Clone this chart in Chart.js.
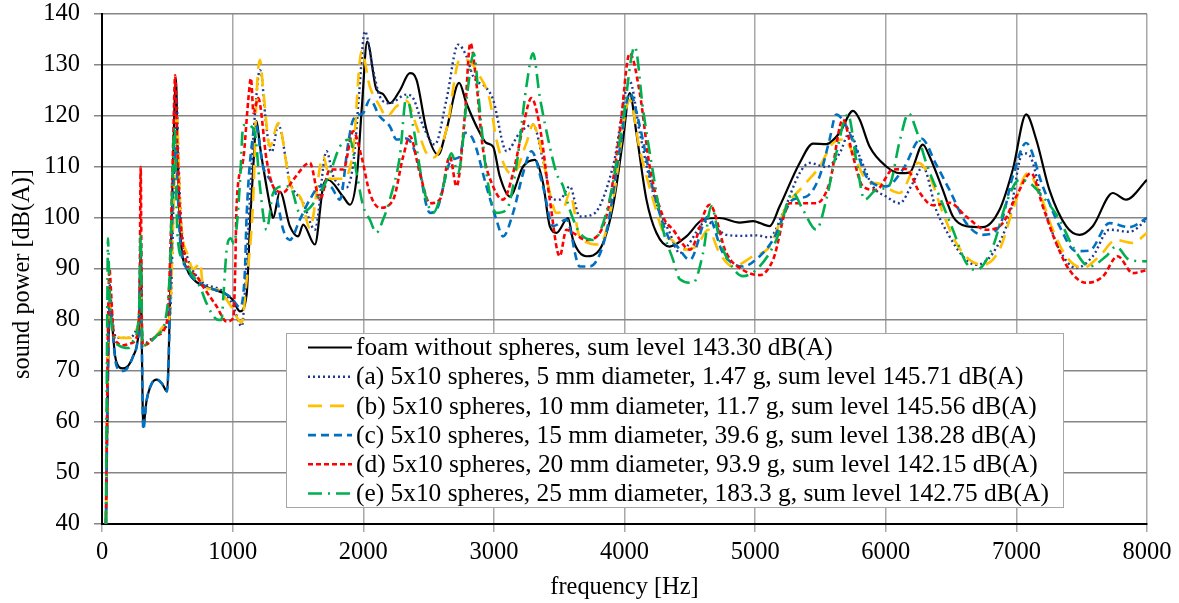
<!DOCTYPE html>
<html><head><meta charset="utf-8">
<script src="https://cdn.jsdelivr.net/npm/chart.js@4.4.1/dist/chart.umd.min.js"></script>
<style>html,body{margin:0;padding:0;background:#fff}#wrap{width:1179px;height:603px}</style>
</head><body><div id="wrap"><canvas id="c" width="1179" height="603"></canvas></div>
<script>
// ---- data: [frequency Hz, sound power dB(A)] ----
const foam = [[30,40],[50,76],[61,84],[70,82],[85,77],[100,73],[130,70.8],[160,70.5],[200,71],[240,73],[270,75.5],[285,80],[296,94],[305,75],[316,59],[340,64],[380,67.5],[420,68.3],[460,67.5],[498,66],[510,72],[525,90],[545,112],[566,127.4],[580,112],[600,97],[650,90],[700,88],[750,87],[850,86],[930,85.3],[1000,84],[1056,81.7],[1107,85],[1135,100],[1158,110],[1183,119],[1210,114],[1234,110],[1298,101],[1310,100],[1362,105.2],[1438,98.4],[1502,96.4],[1540,98.7],[1630,94.8],[1693,106.2],[1730,107.5],[1845,104.2],[1898,102.6],[1950,108],[1990,122],[2030,134.6],[2101,125.2],[2152,124.3],[2203,122.5],[2280,125],[2357,128.4],[2408,127.1],[2484,117.3],[2573,112.4],[2637,117.3],[2734,126.5],[2790,122.5],[2892,116.7],[2943,114.7],[2994,114],[3045,108.2],[3122,104.2],[3224,110.1],[3313,111.4],[3376,106.9],[3428,98.4],[3479,97.1],[3568,100],[3606,95.7],[3708,92.5],[3810,93.8],[3912,102.3],[3989,115.4],[4040,124.5],[4091,116.7],[4168,103.6],[4244,97.1],[4346,94.4],[4474,96.4],[4601,99.7],[4728,100],[4881,99.1],[4984,99.4],[5111,98.4],[5188,102.3],[5341,110.8],[5443,114.6],[5545,114.5],[5647,116.7],[5749,121],[5800,119.3],[5876,114],[6004,110.1],[6106,108.8],[6182,108.9],[6284,114.4],[6335,112.1],[6437,105.5],[6514,100.3],[6616,98.4],[6743,98.2],[6871,101.6],[6973,109.5],[7075,120.3],[7152,115.4],[7253,105.5],[7381,98.4],[7483,96.7],[7585,98.4],[7738,104.9],[7840,103.6],[8000,107.5]];
const seriesA = [[30,40],[48,80],[58,87],[68,84],[90,78],[120,76.5],[200,76.5],[260,78],[285,82],[296,92],[305,78],[316,75],[360,76],[418,76.8],[480,78.5],[520,80.7],[540,95],[555,112],[570,124],[585,112],[608,98.4],[660,91.8],[700,89.5],[775,87.3],[930,85.5],[1000,83],[1056,79.1],[1070,78.8],[1100,88],[1132,103.6],[1170,120],[1209,129],[1222,128],[1250,120],[1285,113.4],[1300,113],[1349,118.3],[1438,107.2],[1540,103],[1630,97.7],[1719,113.1],[1770,108.2],[1872,106],[1930,112],[1970,125],[2012,136.6],[2076,129],[2127,123.8],[2203,122.5],[2331,124.2],[2382,123.5],[2459,118],[2548,114.4],[2637,123.2],[2726,134],[2790,131.7],[2841,127.8],[2943,125.5],[2994,123.2],[3097,113.1],[3198,116.7],[3300,118.3],[3376,111.4],[3453,103.6],[3504,103.6],[3581,106.2],[3657,100.3],[3759,100.7],[3912,110.1],[4040,126.8],[4117,116.7],[4219,104.9],[4346,97.1],[4423,93.1],[4480,94.5],[4627,99.3],[4780,96.7],[4907,96.5],[5009,96.6],[5111,96.2],[5213,101],[5341,108.8],[5417,110.8],[5545,110],[5647,112.7],[5723,116.7],[5800,112.1],[5901,106.2],[6004,104.2],[6106,102.9],[6208,106.9],[6284,110],[6386,101.6],[6488,96.4],[6590,92.5],[6692,90.8],[6820,93.1],[6947,100.3],[7049,112.7],[7100,112.3],[7202,102.9],[7330,93.8],[7457,90.2],[7585,92.5],[7712,97.7],[7865,97.3],[8000,99.7]];
const seriesB = [[30,40],[48,78],[58,84],[68,82],[90,77.5],[120,76.7],[150,76.5],[220,76.5],[260,78],[285,81],[296,90],[305,77],[316,75],[360,75.5],[418,77],[480,79],[520,81],[540,95],[555,108],[572,120],[590,108],[600,101],[660,92.5],[700,90],[724,90.5],[750,91.2],[775,86.5],[880,86],[980,83],[1070,79.5],[1100,86],[1158,104],[1185,125],[1209,131],[1235,125],[1285,114],[1349,118.6],[1438,106.9],[1528,103.6],[1591,98],[1693,112.1],[1745,107.7],[1847,107.7],[1923,113.4],[1987,132.7],[2050,125.8],[2127,121.9],[2178,119.9],[2255,121.9],[2331,123],[2408,118],[2484,112.7],[2535,111.8],[2637,117.3],[2739,131],[2790,131],[2892,127.8],[2968,123.2],[3019,115.4],[3097,109.5],[3147,108.7],[3249,114.7],[3300,118.3],[3351,114.7],[3428,104.9],[3479,101],[3530,101.5],[3581,104.9],[3657,96.4],[3810,94.8],[3912,103.6],[4040,123.2],[4117,113.4],[4219,103.6],[4300,97],[4372,95.5],[4423,93.8],[4550,94.4],[4640,97.7],[4728,93.1],[4830,90.5],[4984,92.5],[5111,94.4],[5239,102.3],[5366,106.2],[5494,110.1],[5596,114.7],[5685,115.4],[5749,112.7],[5850,107.5],[5952,106.7],[6106,104.9],[6250,110.8],[6335,108.2],[6437,101],[6539,95.1],[6641,91.8],[6743,90.8],[6871,93.8],[6973,101.6],[7088,108.8],[7177,104.9],[7279,97.7],[7381,92.5],[7508,90.2],[7636,92.5],[7763,95.7],[7891,95.1],[8000,97.1]];
const seriesC = [[30,40],[50,76],[61,84],[70,82],[85,77],[100,72.5],[130,70.2],[160,70],[200,70.8],[240,73],[270,75.5],[285,80],[296,94],[305,75],[316,58.5],[340,64],[380,67.5],[420,68.3],[460,67.5],[498,66],[510,72],[525,88],[545,105],[566,114],[580,105],[600,95],[650,90],[750,87.3],[985,84.5],[1056,82.5],[1094,89.6],[1107,100.3],[1158,116.7],[1175,118.3],[1234,110],[1298,107],[1336,104.2],[1387,97.7],[1438,95.7],[1515,99.7],[1591,103.6],[1668,106.2],[1745,106.2],[1821,103.6],[1885,114.7],[1923,119.3],[2000,120.6],[2050,123.2],[2127,119.9],[2203,118],[2255,115.4],[2331,115.6],[2408,112.1],[2510,101],[2561,101.6],[2675,111.4],[2739,112],[2777,116.7],[2841,115.4],[2943,106.2],[3019,99.7],[3070,96.4],[3147,101],[3224,108.8],[3287,113.1],[3376,106.2],[3453,98.4],[3555,99.7],[3657,90.5],[3733,90.5],[3861,97.1],[3963,113.4],[4040,124.5],[4117,118],[4219,105.5],[4346,95.7],[4400,94.5],[4500,91.8],[4640,100.3],[4754,93.1],[4907,90.5],[5035,92.5],[5137,95.7],[5290,103.6],[5392,104.2],[5494,108.2],[5570,115.4],[5621,120.3],[5698,118],[5774,113.4],[5850,108.2],[6004,106.2],[6131,109.5],[6272,115.6],[6386,110.5],[6488,105.5],[6616,99],[6743,96.7],[6871,98.4],[6973,108.2],[7075,114.7],[7202,106.2],[7330,98.4],[7457,93.5],[7559,93.6],[7712,99],[7865,98.2],[8000,100]];
const seriesD = [[30,40],[48,82],[58,90],[68,86],[90,77],[120,75.5],[150,75],[230,75.5],[270,77],[288,85],[296,110],[305,80],[316,75],[360,75.5],[420,77],[500,80],[525,95],[545,115],[560,128],[575,115],[597,101],[648,91.2],[724,88.6],[775,86.5],[877,82.7],[954,79.7],[1005,80.4],[1020,90],[1030,102.3],[1081,111.4],[1120,123.2],[1140,127.4],[1160,120.6],[1196,123.5],[1260,111.4],[1310,106.2],[1387,105],[1464,107.5],[1591,110.8],[1668,103.6],[1745,109.5],[1847,109.5],[1923,117],[1987,112],[2050,104.9],[2127,102],[2229,103.6],[2306,112.1],[2357,116],[2433,108.8],[2510,102.9],[2586,103.6],[2663,112.1],[2714,106.2],[2777,119.9],[2820,134.3],[2866,126.5],[2917,113.4],[2994,106.2],[3070,103.6],[3147,108.8],[3224,118],[3287,123.5],[3351,118],[3428,103.6],[3504,92.5],[3555,97.7],[3606,97.1],[3708,95.7],[3861,100.3],[3963,116.7],[4040,132.3],[4117,124.5],[4193,110.1],[4295,100.3],[4372,97.7],[4500,93.8],[4652,102.6],[4780,93.1],[4907,89.8],[5035,88.8],[5137,91.8],[5264,102.9],[5366,102.9],[5468,102.9],[5570,106.9],[5672,119.3],[5749,112.1],[5825,106.2],[5927,105.5],[6055,109.5],[6157,109.6],[6259,105],[6361,102.5],[6488,103],[6616,100.3],[6769,97.7],[6896,99],[6998,104.2],[7113,108.8],[7202,102.3],[7304,95.1],[7406,89.8],[7534,87.3],[7661,88.5],[7776,92.5],[7891,89.2],[8000,89.8]];
const seriesE = [[30,40],[40,80],[46,96],[55,88],[70,80],[100,76],[130,75],[200,74.5],[240,76],[270,78],[288,85],[296,97],[305,80],[316,75],[360,75.5],[420,77],[490,80.7],[520,90],[540,108],[555,118],[577,97],[620,91.8],[673,89.5],[750,86.5],[800,83.3],[880,80.1],[915,80],[930,85],[955,94],[985,96],[1010,95],[1030,98],[1056,106.9],[1081,118],[1107,118.3],[1140,118],[1175,116],[1209,106.2],[1260,97.7],[1310,104.9],[1387,106.2],[1438,106.2],[1515,101],[1591,102],[1668,104.9],[1745,108.8],[1821,114],[1898,115.4],[1949,108.8],[2000,102.3],[2050,99.7],[2101,97.1],[2152,99.7],[2203,103.6],[2280,112.1],[2331,123.8],[2382,118],[2459,106.2],[2535,101],[2612,106.2],[2675,112.7],[2726,108.8],[2803,125.8],[2845,132.3],[2892,121.3],[2943,108.8],[3019,101],[3097,101.6],[3172,110.1],[3249,125.8],[3300,132.3],[3351,123.8],[3428,114],[3479,108.8],[3530,106.2],[3581,101.6],[3657,97.1],[3759,95.7],[3886,103.6],[3989,119.3],[4079,133.6],[4142,121.3],[4219,108.8],[4295,97.7],[4372,91.8],[4423,88],[4525,87.3],[4601,93.1],[4665,102.3],[4728,95.7],[4805,91.2],[4907,88.6],[5035,90.5],[5162,95.7],[5290,104.9],[5366,101.6],[5468,97.7],[5545,103.6],[5621,112.7],[5711,120.3],[5774,111.4],[5838,103.6],[5927,105.5],[6029,106.5],[6106,115],[6175,120.5],[6233,117.3],[6310,110.8],[6412,104.2],[6514,97.7],[6616,91.2],[6692,89.8],[6820,94.4],[6922,102.9],[7024,107.5],[7100,106.9],[7202,104.2],[7330,99.7],[7432,94.4],[7559,90.5],[7687,92.5],[7763,94.4],[7865,91.8],[8000,91.5]];

const labels = [
  'foam without spheres, sum level 143.30 dB(A)',
  '(a) 5x10 spheres, 5 mm diameter, 1.47 g, sum level 145.71 dB(A)',
  '(b) 5x10 spheres, 10 mm diameter, 11.7 g, sum level 145.56 dB(A)',
  '(c) 5x10 spheres, 15 mm diameter, 39.6 g, sum level 138.28 dB(A)',
  '(d) 5x10 spheres, 20 mm diameter, 93.9 g, sum level 142.15 dB(A)',
  '(e) 5x10 spheres, 25 mm diameter, 183.3 g, sum level 142.75 dB(A)'
];
const yTicks = [40,50,60,70,80,90,100,110,120,130,140];
const xTicks = [0,1000,2000,3000,4000,5000,6000,7000,8000];

const allSeries = [foam, seriesA, seriesB, seriesC, seriesD, seriesE];
const styles = [
  {color:'#000000', dash:[], width:2.2},
  {color:'#1f3a8c', dash:[2,3], width:2.4},
  {color:'#ffc000', dash:[14,8], width:2.6},
  {color:'#0070c0', dash:[8,5], width:2.6},
  {color:'#ff0000', dash:[5,3], width:2.6},
  {color:'#00b050', dash:[14,6,2,6], width:2.6}
];
const FONT = "'Liberation Serif', 'Times New Roman', serif";

const datasets = allSeries.map((s, i) => ({
  label: labels[i],
  data: s.map(p => ({x: p[0], y: p[1]})),
  borderColor: styles[i].color,
  borderDash: styles[i].dash,
  borderWidth: styles[i].width,
  pointRadius: 0,
  fill: false,
  cubicInterpolationMode: 'monotone',
  order: allSeries.length - i
}));

const legendPlugin = {
  id: 'boxLegend',
  afterDraw(chart) {
    const c = chart.ctx;
    const bx = 286, by = 333, bw = 777, bh = 174;
    c.save();
    c.fillStyle = '#fff';
    c.fillRect(bx, by, bw, bh);
    c.strokeStyle = '#a6a6a6';
    c.lineWidth = 1;
    c.strokeRect(bx + 0.5, by + 0.5, bw, bh);
    c.font = '25.4px ' + FONT;
    c.textBaseline = 'middle';
    c.textAlign = 'left';
    chart.data.datasets.forEach((ds, i) => {
      const y = by + 14.5 + i * 29.2;
      c.beginPath();
      c.setLineDash(ds.borderDash);
      c.strokeStyle = ds.borderColor;
      c.lineWidth = ds.borderWidth;
      c.moveTo(bx + 22, y);
      c.lineTo(bx + 66, y);
      c.stroke();
      c.setLineDash([]);
      c.fillStyle = '#000';
      c.fillText(ds.label, bx + 70, y + 1);
    });
    // axis titles
    c.font = '24.4px ' + FONT;
    c.textAlign = 'center';
    const ca = chart.chartArea;
    c.fillText('frequency [Hz]', (ca.left + ca.right) / 2, 588);
    c.translate(23, 274);
    c.rotate(-Math.PI / 2);
    c.fillText('sound power [dB(A)]', 0, 0);
    c.restore();
  }
};

new Chart(document.getElementById('c').getContext('2d'), {
  type: 'line',
  data: { datasets },
  plugins: [legendPlugin],
  options: {
    responsive: false,
    animation: false,
    devicePixelRatio: 1,
    layout: { padding: { top: 0, right: 32, left: 0, bottom: 0 } },
    plugins: { legend: { display: false }, tooltip: { enabled: false } },
    scales: {
      x: {
        type: 'linear', min: 0, max: 8000,
        afterBuildTicks: s => { s.ticks = xTicks.map(v => ({value: v})); },
        afterFit: s => { s.height = 79; },
        ticks: { font: { family: FONT, size: 24.5 }, color: '#000', padding: 6, maxRotation: 0, callback: v => String(v) },
        grid: { color: '#a8a8a8', lineWidth: 1.5, tickLength: 8 },
        border: { color: '#000', width: 2 }
      },
      y: {
        min: 40, max: 140,
        afterBuildTicks: s => { s.ticks = yTicks.map(v => ({value: v})); },
        afterFit: s => { s.width = 102; s.paddingTop = 14; s.paddingBottom = 0; },
        ticks: { font: { family: FONT, size: 24.5 }, color: '#000', padding: 14, callback: v => String(v) },
        grid: { color: '#858585', lineWidth: 1.5, tickLength: 8 },
        border: { color: '#000', width: 2 }
      }
    }
  }
});
</script>
</body></html>
